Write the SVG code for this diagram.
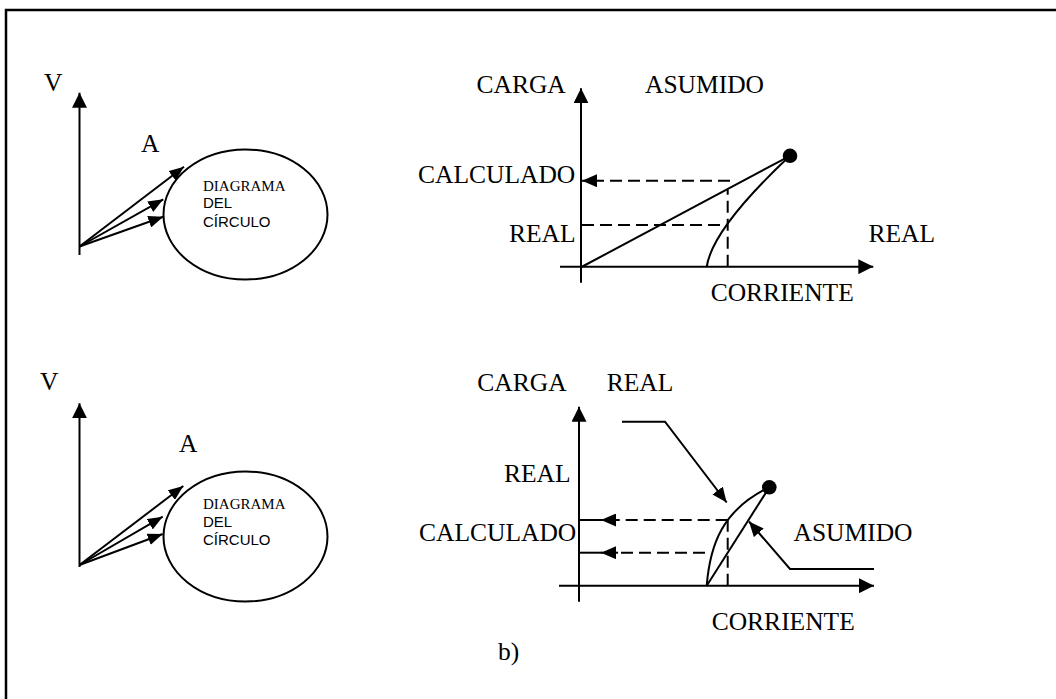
<svg xmlns="http://www.w3.org/2000/svg" width="1056" height="699" viewBox="0 0 1056 699">
<style>
.t{font-family:"Liberation Serif","Times New Roman",serif;font-size:25.5px;fill:#000}
.ts{font-family:"Liberation Serif","Times New Roman",serif;font-size:15px;fill:#000}
.ss{font-family:"Liberation Sans",Arial,sans-serif;font-size:15px;fill:#000}
.ln{stroke:#000;stroke-width:2;fill:none}
.dash{stroke:#000;stroke-width:2;fill:none;stroke-dasharray:12 6}
.ax{marker-end:url(#axh)}
.vec{marker-end:url(#vh)}
.dh{marker-end:url(#dh)}
</style>
<defs>
<marker id="axh" markerUnits="userSpaceOnUse" viewBox="0 0 15 15" refX="15" refY="7.5" markerWidth="15" markerHeight="15" orient="auto"><path d="M0,0 L15,7.5 L0,15 z" fill="#000"/></marker>
<marker id="vh" markerUnits="userSpaceOnUse" viewBox="0 0 15 12" refX="15" refY="6" markerWidth="15" markerHeight="12" orient="auto"><path d="M0,0 L15,6 L0,12 z" fill="#000"/></marker>
<marker id="dh" markerUnits="userSpaceOnUse" viewBox="0 0 15 13" refX="15" refY="6.5" markerWidth="15" markerHeight="13" orient="auto"><path d="M0,0 L15,6.5 L0,13 z" fill="#000"/></marker>
</defs>
<rect x="6" y="10" width="1060" height="700" fill="#fff" stroke="#000" stroke-width="2.5"/>

<!-- Upper-left -->
<g id="ul-labels">
<text class="t" x="44" y="91">V</text>
<text class="t" x="141" y="152">A</text>
</g>
<g id="ul-circle">
<ellipse cx="245.5" cy="214.5" rx="82" ry="65" class="ln"/>
<text class="ts" x="203" y="190.5">DIAGRAMA</text>
<text class="ss" x="203" y="208">DEL</text>
<text class="ss" x="203" y="226.5">CÍRCULO</text>
</g>

<!-- Lower-left -->
<g id="ll-labels">
<text class="t" x="40" y="390">V</text>
<text class="t" x="179" y="452">A</text>
</g>
<g id="ll-circle">
<ellipse cx="245.5" cy="536.5" rx="82" ry="65" class="ln"/>
<text class="ts" x="203" y="509.3">DIAGRAMA</text>
<text class="ss" x="203" y="526.8">DEL</text>
<text class="ss" x="203" y="545.3">CÍRCULO</text>
</g>

<!-- Upper-right labels -->
<g id="ur-labels">
<text class="t" x="476.5" y="92.7">CARGA</text>
<text class="t" x="645" y="92.7">ASUMIDO</text>
<text class="t" x="418" y="182.5">CALCULADO</text>
<text class="t" x="509" y="241.7">REAL</text>
<text class="t" x="868.5" y="241.7">REAL</text>
<text class="t" x="710.7" y="300.5">CORRIENTE</text>
</g>
<g id="ur-point"><circle cx="790" cy="155.8" r="7.3" fill="#000"/></g>

<!-- Lower-right labels -->
<g id="lr-labels">
<text class="t" x="477.3" y="391">CARGA</text>
<text class="t" x="606.7" y="391">REAL</text>
<text class="t" x="504" y="481.7">REAL</text>
<text class="t" x="419" y="541">CALCULADO</text>
<text class="t" x="793.5" y="540.7">ASUMIDO</text>
<text class="t" x="711.7" y="630">CORRIENTE</text>
</g>
<g id="lr-point"><circle cx="769.3" cy="487.3" r="7.3" fill="#000"/></g>

<g id="caption"><text class="t" x="498" y="660">b)</text></g>

<g id="connectors">
<!-- upper-left axis & vectors -->
<line class="ln ax" x1="79.5" y1="255" x2="79.5" y2="92.7"/>
<line class="ln vec" x1="79.5" y1="246.5" x2="184" y2="166.7"/>
<line class="ln vec" x1="79.5" y1="246.5" x2="163.3" y2="199.3"/>
<line class="ln vec" x1="79.5" y1="246.5" x2="163.3" y2="216.7"/>
<!-- lower-left axis & vectors -->
<line class="ln ax" x1="79.5" y1="567" x2="79.5" y2="403.3"/>
<line class="ln vec" x1="79.5" y1="565" x2="183.3" y2="486"/>
<line class="ln vec" x1="79.5" y1="565" x2="162.7" y2="516.7"/>
<line class="ln vec" x1="79.5" y1="565" x2="162.7" y2="534"/>
<!-- upper-right chart -->
<line class="ln ax" x1="581" y1="282.7" x2="581" y2="88.3"/>
<line class="ln ax" x1="560" y1="266.7" x2="873.3" y2="266.7"/>
<line class="ln" x1="581.5" y1="267" x2="790" y2="155.8"/>
<path class="ln" d="M706.7 267 Q712 229 790 155.8"/>
<line class="dash" x1="727.7" y1="266.7" x2="727.7" y2="189.5"/>
<line class="dash dh" x1="730" y1="180.7" x2="582" y2="180.7"/>
<line class="dash" x1="582" y1="225" x2="726.5" y2="225"/>
<!-- lower-right chart -->
<line class="ln ax" x1="579" y1="601.7" x2="579" y2="406.7"/>
<line class="ln ax" x1="559" y1="585.7" x2="874" y2="585.7"/>
<line class="ln" x1="706.7" y1="585.7" x2="769.3" y2="487.3"/>
<path class="ln" d="M706.7 585.7 C710 545 722 510 769.3 487.3"/>
<line class="dash" x1="727.7" y1="585.7" x2="727.7" y2="520"/>
<line class="dash" x1="727.7" y1="520" x2="618" y2="520"/>
<line class="ln" x1="579" y1="520" x2="602" y2="520"/>
<line class="ln dh" x1="618" y1="520" x2="601" y2="520"/>
<line class="dash" x1="705" y1="552.7" x2="618" y2="552.7"/>
<line class="ln" x1="579" y1="552.7" x2="602" y2="552.7"/>
<line class="ln dh" x1="618" y1="552.7" x2="601" y2="552.7"/>
<polyline class="ln dh" points="622,421.7 665,421.7 726.7,502.5"/>
<polyline class="ln dh" points="874,569 790,569 749,521.5"/>
</g>
</svg>
